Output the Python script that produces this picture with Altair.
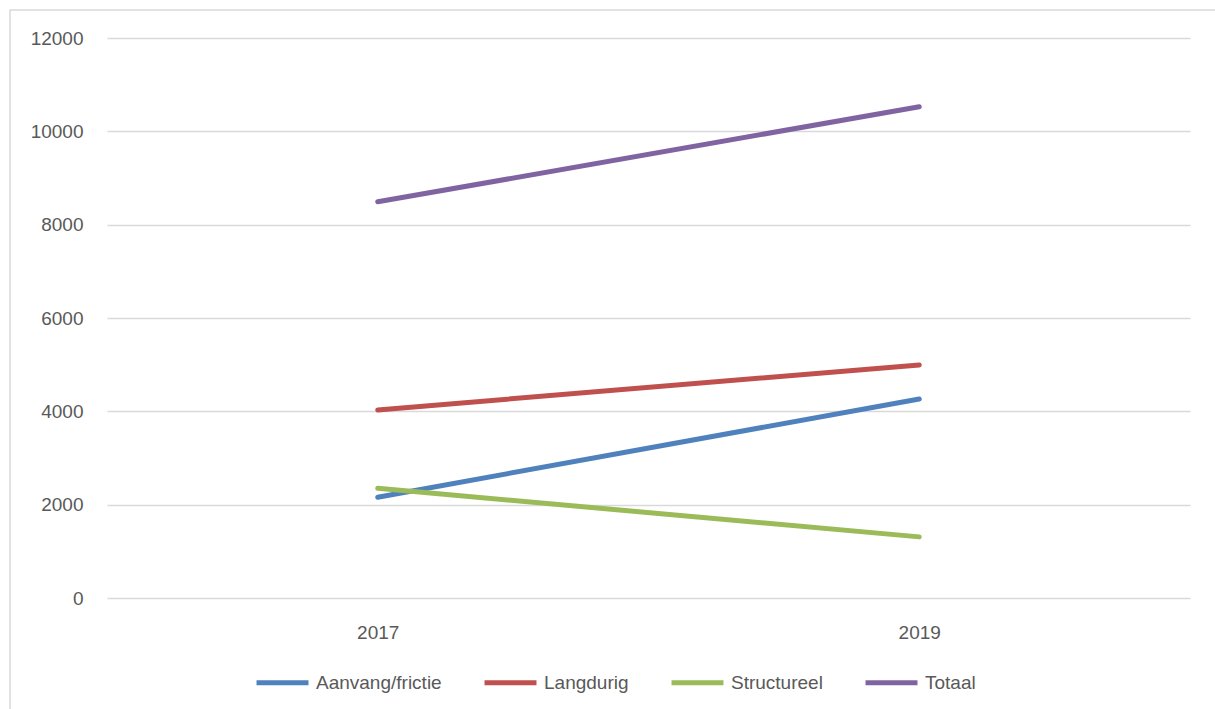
import altair as alt
import pandas as pd

years = ["2017", "2019"]
series = ["Aanvang/frictie", "Langdurig", "Structureel", "Totaal"]
aanvang = [2160, 4265]
langdurig = [4030, 4995]
structureel = [2350, 1310]
totaal = [8490, 10525]
colors = ["#4F81BD", "#C0504D", "#9BBB59", "#8064A2"]
y_ticks = [0, 2000, 4000, 6000, 8000, 10000, 12000]

rows = []
for name, vals in zip(series, [aanvang, langdurig, structureel, totaal]):
    for yr, v in zip(years, vals):
        rows.append({"Jaar": yr, "Reeks": name, "Waarde": v})
df = pd.DataFrame(rows)

FONT = "Liberation Sans"
GREY = "#595959"
FS = 19

frame = alt.Chart(alt.Data(values=[{"a": 1}])).mark_rect(
    fill="transparent", stroke="#D9D9D9", strokeWidth=1.5
).encode(
    x=alt.value(-97), x2=alt.value(1140), y=alt.value(-28), y2=alt.value(700)
)

lines = alt.Chart(df).mark_line(strokeWidth=5, strokeCap="round").encode(
    x=alt.X("Jaar:N", sort=years, scale=alt.Scale(type="point", padding=0.5),
            axis=alt.Axis(title=None, labelAngle=0, domain=False, ticks=False,
                          labelPadding=25, labelFontSize=FS, labelColor=GREY,
                          labelFont=FONT, grid=False)),
    y=alt.Y("Waarde:Q", scale=alt.Scale(domain=[0, 12000], nice=False),
            axis=alt.Axis(title=None, values=y_ticks, format="d", domain=False,
                          ticks=False, labelPadding=24, labelFontSize=FS,
                          labelColor=GREY, labelFont=FONT, grid=True,
                          gridColor="#D9D9D9", gridWidth=1.5)),
    color=alt.Color("Reeks:N", sort=series,
                    scale=alt.Scale(domain=series, range=colors),
                    legend=alt.Legend(title=None, orient="none", direction="horizontal",
                                      legendX=147, legendY=616,
                                      symbolType="stroke", symbolSize=2700,
                                      symbolStrokeWidth=5, symbolOffset=0,
                                      labelFontSize=FS, labelColor=GREY, labelFont=FONT,
                                      labelOffset=5, columnPadding=32)),
    order=alt.Order("Jaar:N"),
)

chart = alt.layer(frame, lines).properties(
    width=1083, height=560,
    background="white",
    autosize=alt.AutoSizeParams(type="none"),
    padding={"left": 107, "top": 38, "right": 25, "bottom": 111},
).configure_view(strokeWidth=0, stroke="transparent")

chart.save("out.html", embed_options={"renderer": "svg", "actions": False})
